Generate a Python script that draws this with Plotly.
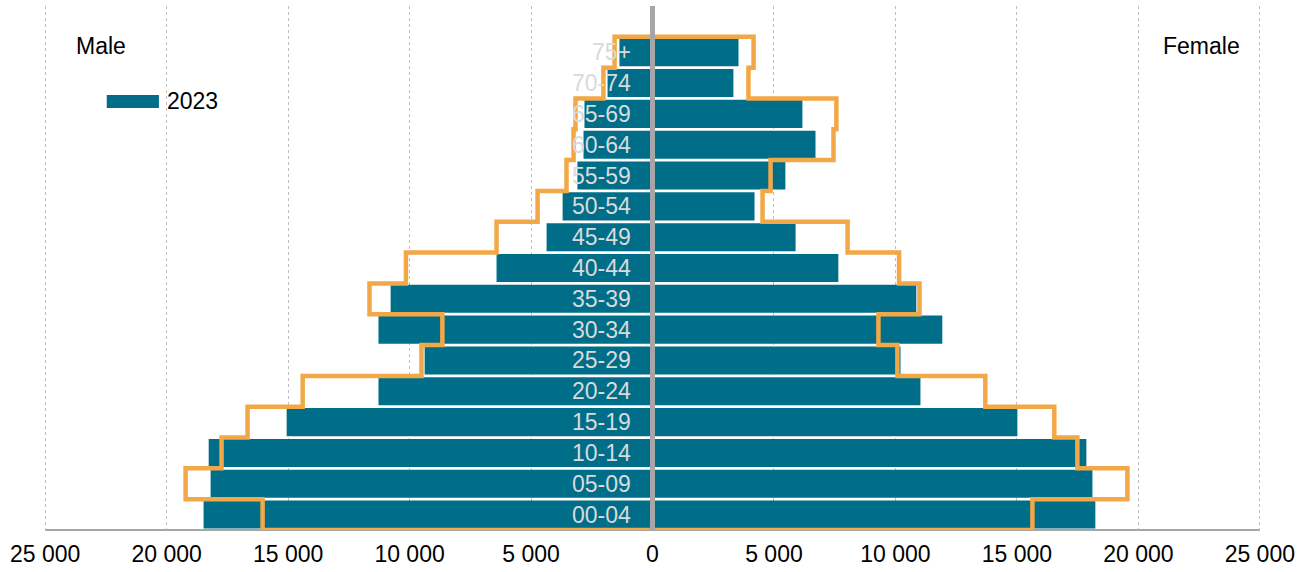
import plotly.graph_objects as go

ages = ["00-04", "05-09", "10-14", "15-19", "20-24", "25-29", "30-34", "35-39",
        "40-44", "45-49", "50-54", "55-59", "60-64", "65-69", "70-74", "75+"]

male_2023 = [18480, 18190, 18270, 15060, 11280, 9380, 11280, 10780,
             6420, 4360, 3700, 3090, 2840, 2800, 1850, 1360]
female_2023 = [18230, 18110, 17860, 15020, 11030, 10210, 11930, 10860,
               7650, 5890, 4200, 5470, 6710, 6170, 3330, 3540]

male_outline = [16050, 19220, 17740, 16670, 14400, 9510, 8650, 11650,
                10150, 6420, 4730, 3540, 3250, 3170, 2020, 1560]
female_outline = [15640, 19550, 17490, 16540, 13700, 10080, 9300, 10990,
                  10150, 8030, 4530, 4860, 7450, 7570, 3950, 4160]

tick_vals = [-25000, -20000, -15000, -10000, -5000, 0, 5000, 10000, 15000, 20000, 25000]
tick_text = ["25 000", "20 000", "15 000", "10 000", "5 000", "0",
             "5 000", "10 000", "15 000", "20 000", "25 000"]

TEAL = "#006E88"
ORANGE = "#F2A846"
FONT = "Arial, Liberation Sans, sans-serif"

pos = list(range(len(ages)))

fig = go.Figure()
fig.add_trace(go.Bar(y=pos, x=[-v for v in male_2023], orientation="h",
                     marker=dict(color=TEAL, line=dict(width=0)),
                     name="2023", showlegend=False))
fig.add_trace(go.Bar(y=pos, x=female_2023, orientation="h",
                     marker=dict(color=TEAL, line=dict(width=0)),
                     name="2023 female", showlegend=False))

# outline (step) path built from the outline series
ox, oy = [], []
for i, v in enumerate(male_outline):
    ox += [-v, -v]
    oy += [i - 0.5, i + 0.5]
for i in reversed(range(len(female_outline))):
    v = female_outline[i]
    ox += [v, v]
    oy += [i + 0.5, i - 0.5]
ox.append(ox[0])
oy.append(oy[0])
fig.add_trace(go.Scatter(x=ox, y=oy, mode="lines",
                         line=dict(color=ORANGE, width=4.5),
                         showlegend=False, hoverinfo="skip"))

# zero line above the bars
fig.add_shape(type="line", xref="x", yref="paper", x0=0, x1=0, y0=0, y1=1,
              line=dict(color="#A6A6A6", width=5), layer="above")

# age labels
for i, a in enumerate(ages):
    fig.add_annotation(x=0, y=i, text=a, showarrow=False, xanchor="right",
                       yanchor="middle", xshift=-20,
                       font=dict(family=FONT, size=23, color="#DADADA"))

# Male / Female
fig.add_annotation(xref="paper", yref="paper", x=0.0478, y=0.9237, text="Male",
                   xanchor="center", yanchor="middle", showarrow=False,
                   font=dict(family=FONT, size=23, color="#000000"))
fig.add_annotation(xref="paper", yref="paper", x=0.9506, y=0.9237, text="Female",
                   xanchor="center", yanchor="middle", showarrow=False,
                   font=dict(family=FONT, size=23, color="#000000"))

# legend
fig.add_shape(type="rect", xref="paper", yref="paper", x0=0.0523, x1=0.0951,
              y0=0.8053, y1=0.8302, fillcolor=TEAL, line=dict(width=0))
fig.add_annotation(xref="paper", yref="paper", x=0.1000, y=0.8187, text="2023",
                   xanchor="left", yanchor="middle", showarrow=False,
                   font=dict(family=FONT, size=23, color="#000000"))

fig.update_layout(
    width=1305, height=572,
    margin=dict(l=43, r=43, t=6, b=42),
    paper_bgcolor="white", plot_bgcolor="white",
    barmode="relative", bargap=0.09,
    font=dict(family=FONT, size=23, color="#000000"),
    showlegend=False,
)
fig.update_xaxes(range=[-25090, 25090], tickvals=tick_vals, ticktext=tick_text,
                 showgrid=True, gridcolor="#BFBFBF", gridwidth=1, griddash="dot",
                 zeroline=False, showline=False,
                 ticks="", ticklabelstandoff=8, automargin=False,
                 tickfont=dict(family=FONT, size=23, color="#000000"))
fig.update_yaxes(range=[-0.5, 16.5], showticklabels=False, showgrid=False,
                 zeroline=False, showline=False, ticks="", automargin=False)

# bottom axis line spanning the tick range
fig.add_shape(type="line", xref="x", yref="paper", x0=tick_vals[0], x1=tick_vals[-1],
              y0=0, y1=0, line=dict(color="#A6A6A6", width=2), layer="below")

fig.write_html("out.html", config={"displayModeBar": False},
               post_script="document.body.style.margin='0';")
